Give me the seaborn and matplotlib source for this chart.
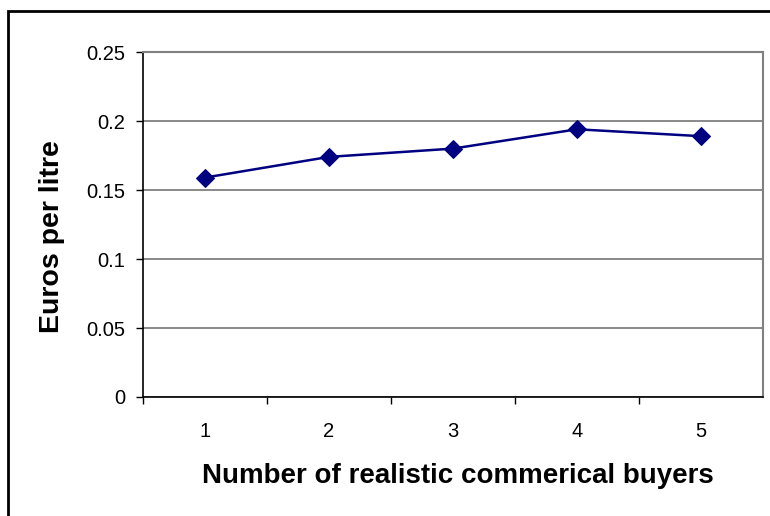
import matplotlib
matplotlib.use("Agg")
import matplotlib.pyplot as plt
from matplotlib.patches import Rectangle
from matplotlib.ticker import FixedLocator
import seaborn as sns
import pandas as pd

# Number of realistic commercial buyers and the resulting price
buyers = [1, 2, 3, 4, 5]
euros_per_litre = [0.159, 0.174, 0.180, 0.194, 0.189]
y_ticks = [0, 0.05, 0.1, 0.15, 0.2, 0.25]
y_tick_labels = ["0", "0.05", "0.1", "0.15", "0.2", "0.25"]

df = pd.DataFrame({"buyers": buyers, "price": euros_per_litre})

sns.set_style("white")
plt.rcParams["font.family"] = ["Liberation Sans", "DejaVu Sans"]
plt.rcParams["text.color"] = "black"
plt.rcParams["axes.labelcolor"] = "black"
plt.rcParams["xtick.color"] = "black"
plt.rcParams["ytick.color"] = "black"

W, H = 770, 516
fig = plt.figure(figsize=(W / 100, H / 100), dpi=100)
ax = fig.add_axes([143 / W, 1 - 397 / H, (763 - 143) / W, (397 - 52) / H])

sns.lineplot(data=df, x="buyers", y="price", ax=ax, color="#000080",
             marker="D", markersize=9, markeredgecolor="#000080",
             linewidth=1.8, clip_on=False, zorder=5)

ax.set_xlim(0.5, 5.5)
ax.set_ylim(0, 0.25)

# y axis: gridlines at every tick
ax.set_yticks(y_ticks)
ax.set_yticklabels(y_tick_labels)
ax.yaxis.grid(True, color="#808080", linewidth=1.3)
ax.set_axisbelow(True)
ax.tick_params(axis="y", direction="out", length=5, width=1, color="black",
               labelsize=14.5, pad=8, left=True)

# x axis: labels at category centres, ticks at category boundaries
ax.set_xticks(buyers)
ax.set_xticklabels([str(b) for b in buyers])
ax.tick_params(axis="x", which="major", length=0, labelsize=14.5, pad=18)
ax.xaxis.set_minor_locator(FixedLocator([0.5, 1.5, 2.5, 3.5, 4.5]))
ax.tick_params(axis="x", which="minor", direction="out", length=5, width=1,
               color="black", bottom=True)

for side in ["left", "bottom"]:
    ax.spines[side].set_color("black")
    ax.spines[side].set_linewidth(1.2)
for side in ["top", "right"]:
    ax.spines[side].set_visible(True)
    ax.spines[side].set_color("#808080")
    ax.spines[side].set_linewidth(1.5)

ax.set_xlabel("Number of realistic commerical buyers", fontsize=20,
              fontweight="bold")
ax.set_ylabel("Euros per litre", fontsize=20.5, fontweight="bold")
ax.xaxis.set_label_coords((458 - 143) / (763 - 143), (397 - 476) / (397 - 52))
ax.yaxis.set_label_coords((52 - 143) / (763 - 143), (397 - 237) / (397 - 52))
ax.xaxis.label.set_va("center")
ax.yaxis.label.set_va("center")

# chart frame
fig.patches.append(Rectangle((8 / W, -0.2), 1.2, 1.2 - 11 / H,
                             transform=fig.transFigure, fill=False,
                             edgecolor="black", linewidth=2, clip_on=False))

fig.savefig("out.png", dpi=100)
